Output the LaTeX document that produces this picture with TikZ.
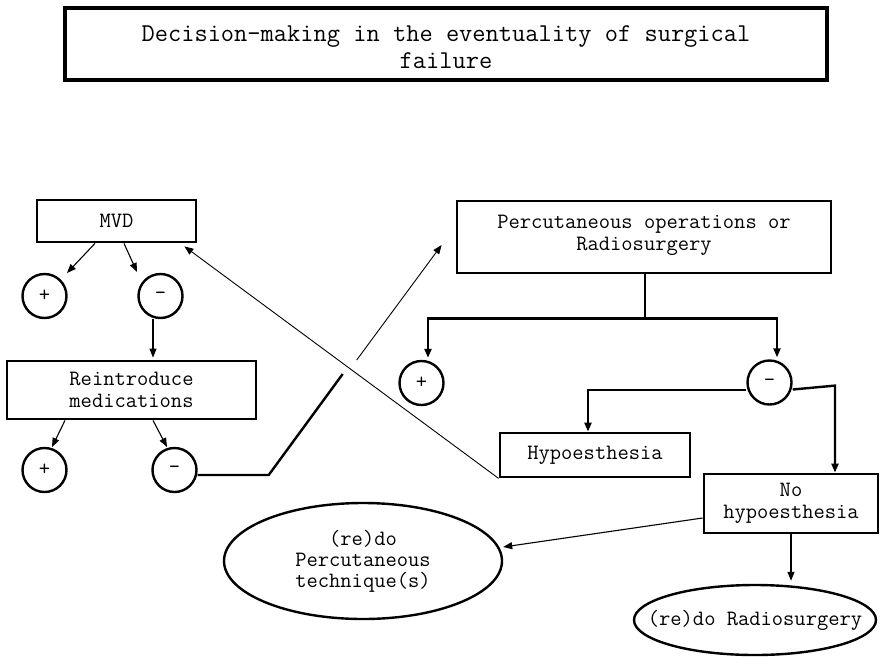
\documentclass[tikz,border=0pt]{standalone}
\usetikzlibrary{arrows.meta,calc,shapes.geometric}
\begin{document}
\begin{tikzpicture}[x=1pt,y=-1pt,
  box/.style={draw, line width=2.8pt, rectangle, inner sep=0pt, align=center, font=\ttfamily\fontsize{21.9}{22}\selectfont},
  circ/.style={draw, circle, line width=2.4pt, minimum size=44pt, inner sep=0pt, font=\ttfamily\fontsize{21.9}{22}\selectfont},
  ell/.style={draw, ellipse, line width=2.4pt, inner sep=0pt, align=center, font=\ttfamily\fontsize{21.9}{21}\selectfont},
  arr/.style={-{Triangle[length=9pt,width=7pt]}, line width=1.1pt},
  tree/.style={line width=2.4pt},
  treearr/.style={line width=2.4pt, -{Triangle[length=9pt,width=7pt]}}
]
\useasboundingbox (0,0) rectangle (880,656);

% title
\node[box, line width=3.6pt, minimum width=762pt, minimum height=72pt,
      font=\ttfamily\fontsize{25.7}{27}\selectfont] (title) at (446,44)
  {\rule{0pt}{31pt}Decision-making in the eventuality of surgical\\failure\strut};

% left branch
\node[box, minimum width=159pt, minimum height=42pt] (mvd) at (116.5,221) {MVD};
\node[circ] (c1p) at (44.5,296) {+};
\node[circ] (c1m) at (160.5,296) {-};
\node[box, minimum width=249pt, minimum height=58pt] (reintro) at (131.5,390) {Reintroduce\\medications};
\node[circ] (c2p) at (44.5,470) {+};
\node[circ] (c2m) at (174.5,470) {-};

% right branch
\node[box, minimum width=374pt, minimum height=72pt] (perc) at (644,237) {Percutaneous operations or\\Radiosurgery\\[-13pt]};
\node[circ] (c3p) at (421.5,383) {+};
\node[circ] (c3m) at (769.5,382.5) {-};
\node[box, minimum width=190pt, minimum height=44pt] (hypo) at (595,455) {Hypoesthesia};
\node[box, minimum width=174pt, minimum height=59pt] (nohypo) at (791,503.5) {No\\hypoesthesia};
\node[ell, minimum width=278pt, minimum height=116pt] (ell1) at (363,561) {(re)do\\Percutaneous\\technique(s)};
\node[ell, minimum width=242pt, minimum height=70pt, inner xsep=-22pt] (ell2) at (755,620) {(re)do Radiosurgery};

% left connectors
\draw[arr] ([xshift=-21.5pt]mvd.south) -- ($(c1p)+(22.5,-23)$);
\draw[arr] ([xshift=7.5pt]mvd.south) -- ($(c1m)+(-23.5,-24)$);
\draw[arr] ([xshift=-7.5pt]c1m.south) -- ([xshift=-7.5pt,yshift=2pt]c1m.south |- reintro.north);
\draw[arr] ([xshift=-66.5pt]reintro.south) -- ($(c2p)+(7.5,-23)$);
\draw[arr] ([xshift=21.5pt]reintro.south) -- ($(c2m)+(-7.5,-23)$);

% crossing lines
\coordinate (bend) at ($(c2m.east)+(71,5)$);
\coordinate (gapA) at ($(bend)+(74,-101)$);
\coordinate (gapB) at ($(gapA)+(14,-14)$);
\draw[tree] ([yshift=-5pt]c2m.east) -- (bend) -- (gapA);
\draw[arr, line width=0.9pt] (gapB) -- ($(perc.west)+(-14,8)$);
\draw[arr, line width=0.9pt] (hypo.south west) -- ($(mvd.south east)+(-13,3)$);

% right tree
\coordinate (j) at ($(perc.south)+(1,44)$);
\draw[tree] ([xshift=1pt]perc.south) -- (j);
\draw[treearr] (j) -| ([xshift=6.5pt,yshift=2pt]c3p.north);
\draw[treearr] (j) -| ([xshift=7.5pt,yshift=2pt]c3m.north);
\draw[treearr] ([yshift=-7.5pt]c3m.west) -| ([xshift=-7pt]hypo.north);
\draw[treearr] ([yshift=-7pt]c3m.east) -- ($(nohypo.north)+(44,-87)$) -- ([xshift=44pt]nohypo.north);

% bottom connectors
\draw[arr] ([yshift=-14.5pt]nohypo.west) -- ($(ell1.east)+(0,-14)$);
\draw[arr] (nohypo.south) -- ([yshift=3pt]nohypo.south |- ell2.north);
\end{tikzpicture}
\end{document}
